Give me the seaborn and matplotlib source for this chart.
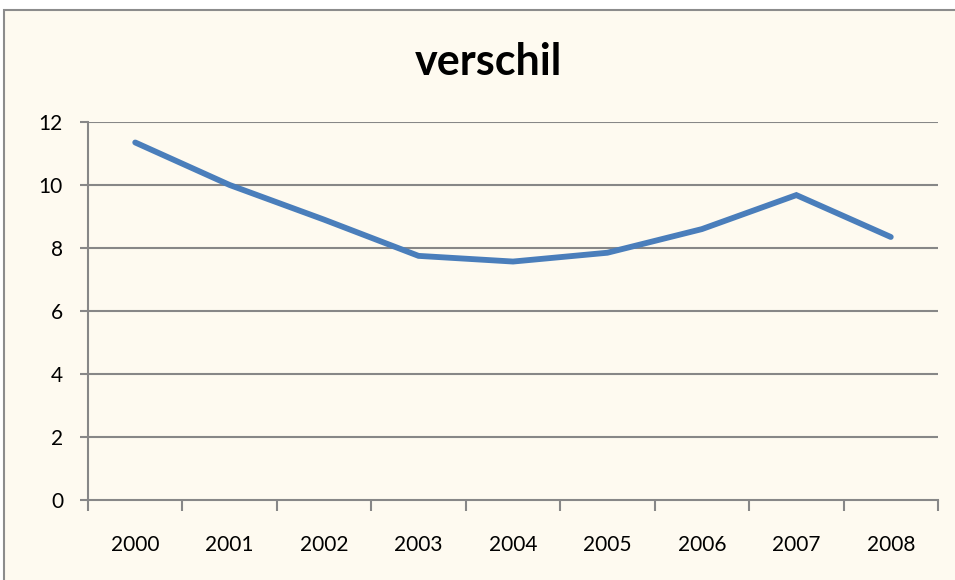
import numpy as np
import pandas as pd
import matplotlib
matplotlib.use("Agg")
import matplotlib.pyplot as plt
import seaborn as sns
from matplotlib.patches import Rectangle

# data
years = ["2000", "2001", "2002", "2003", "2004", "2005", "2006", "2007", "2008"]
verschil = [11.35, 10.0, 8.9, 7.75, 7.57, 7.85, 8.6, 9.68, 8.35]
yticks = [0, 2, 4, 6, 8, 10, 12]

sns.set_style("white")
plt.rcParams['font.family'] = ['Lato', 'DejaVu Sans']
plt.rcParams['text.color'] = 'black'

bg = "#FEFAF0"
grid = "#878787"
line_col = "#4A7EBB"

fig = plt.figure(figsize=(9.55, 5.8), dpi=100, facecolor="white")
# chart area with border
fig.patches.append(Rectangle((4/955, -0.1), 1.2, 1-10/580 + 0.1,
                             transform=fig.transFigure, facecolor=bg,
                             edgecolor="#8C8C8C", lw=1.5, zorder=-1))

ax = fig.add_axes([88/955, 1-500/580, 850/955, 378/580])
ax.set_facecolor(bg)

df = pd.DataFrame({"jaar": years, "verschil": verschil})
sns.lineplot(data=df, x="jaar", y="verschil", ax=ax, color=line_col,
             linewidth=4.2, solid_capstyle="round", solid_joinstyle="miter")

ax.set_xlim(-0.5, len(years) - 0.5)
ax.set_ylim(0, 12)
ax.set_yticks(yticks)
ax.set_yticklabels([str(v) for v in yticks], fontsize=15, color="black")
for v in yticks[1:]:
    ax.axhline(v, color=grid, lw=1.5, zorder=0)

# category axis: ticks between categories, labels at centers
pos = np.arange(len(years))
ax.set_xticks(np.arange(len(years) + 1) - 0.5)
ax.set_xticklabels([])
ax.set_xticks(pos, minor=True)
ax.set_xticklabels(years, minor=True, fontsize=15, color="black")
ax.tick_params(axis="x", which="major", bottom=True, length=8, width=1.5,
               color=grid, direction="out")
ax.tick_params(axis="x", which="minor", bottom=True, length=0, pad=25)
ax.tick_params(axis="y", left=True, length=6, width=1.5, color=grid,
               direction="out", pad=12)

for s in ["top", "right"]:
    ax.spines[s].set_visible(False)
for s in ["left", "bottom"]:
    ax.spines[s].set_color(grid)
    ax.spines[s].set_linewidth(1.5)

ax.set_xlabel("")
ax.set_ylabel("")
fig.text(488/955, 1-62/580, "verschil", ha="center", va="center",
         fontsize=31, fontweight="bold", color="black")

fig.savefig("out.png", dpi=100, facecolor="white")
